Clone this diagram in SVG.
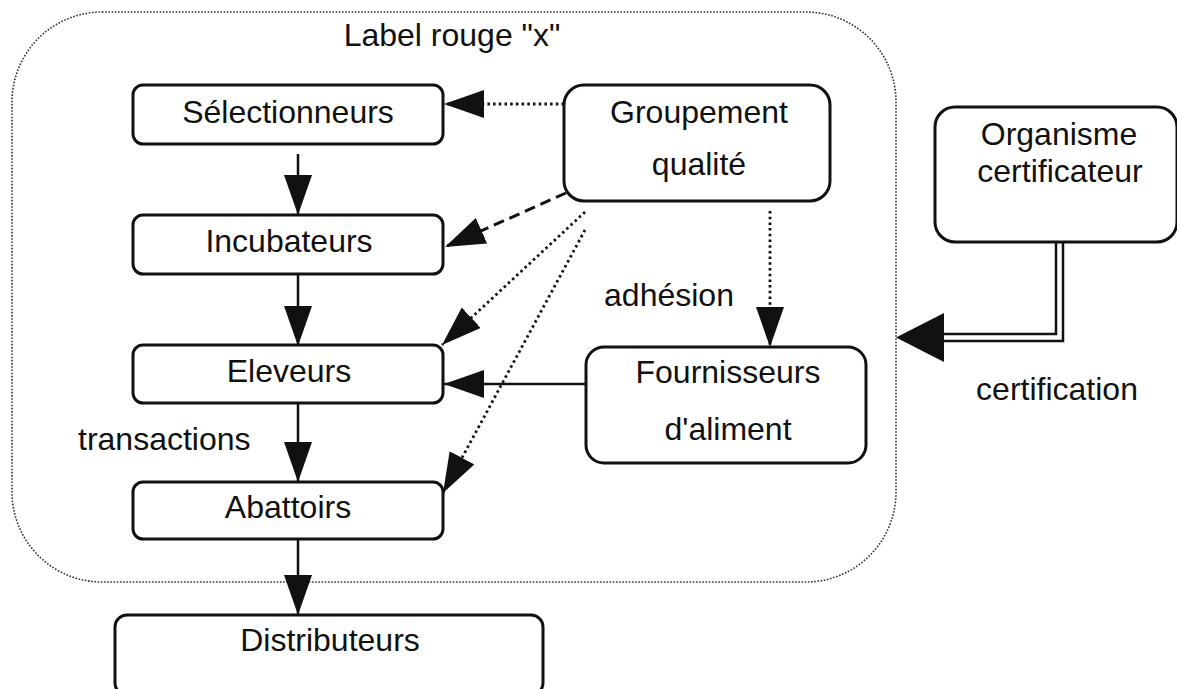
<svg xmlns="http://www.w3.org/2000/svg" width="1177" height="689" viewBox="0 0 1177 689">
<defs>
<style>
text{font-family:"Liberation Sans",Arial,sans-serif;font-size:32px;fill:#111;text-anchor:middle}
.box{fill:#fff;stroke:#111;stroke-width:3}
.solid{stroke:#111;stroke-width:2.5;fill:none}
.dot{stroke:#111;stroke-width:2.8;fill:none;stroke-dasharray:2.5 3.2}
.dash{stroke:#111;stroke-width:3;fill:none;stroke-dasharray:11 6}
.frame{fill:none;stroke:#333;stroke-width:1.6;stroke-dasharray:1.6 1.6}
</style>
<marker id="ah" markerUnits="userSpaceOnUse" markerWidth="42" markerHeight="30" refX="40" refY="14" orient="auto">
<path d="M0,0 L40,14 L0,28 Z" fill="#111"/>
</marker>
</defs>
<rect id="frame" class="frame" x="12" y="12" width="884" height="570" rx="90" ry="90"/>
<text x="452" y="46">Label rouge "x"</text>
<g id="connectors">
<line class="solid" x1="298" y1="154" x2="298" y2="215" marker-end="url(#ah)"/>
<line class="solid" x1="298" y1="274" x2="298" y2="346" marker-end="url(#ah)"/>
<line class="solid" x1="298" y1="404" x2="298" y2="482" marker-end="url(#ah)"/>
<line class="solid" x1="298" y1="539" x2="298" y2="615" marker-end="url(#ah)"/>
<line class="solid" x1="585" y1="384" x2="444" y2="384" marker-end="url(#ah)"/>
<line class="dot" x1="564" y1="104" x2="444" y2="104" marker-end="url(#ah)"/>
<line class="dash" x1="566" y1="193" x2="445" y2="247" marker-end="url(#ah)"/>
<line class="dot" x1="585" y1="212" x2="442" y2="345" marker-end="url(#ah)"/>
<line class="dot" x1="585" y1="230" x2="443" y2="493" marker-end="url(#ah)"/>
<line class="dot" x1="770" y1="211" x2="770" y2="347" marker-end="url(#ah)"/>
<path d="M1059.5,242 V337.5 H940" fill="none" stroke="#111" stroke-width="9.5"/>
<path d="M1059.5,242 V337.5 H940" fill="none" stroke="#fff" stroke-width="4.5"/>
<polygon points="896,337.5 944,313 944,362" fill="#111"/>
<text x="78" y="450" style="text-anchor:start">transactions</text>
<text x="669" y="306">adhésion</text>
<text x="1057" y="400">certification</text>
</g>
<g id="selectionneurs">
<rect class="box" x="133" y="85" width="310" height="59" rx="10"/>
<text x="288" y="123">Sélectionneurs</text>
</g>
<g id="incubateurs">
<rect class="box" x="133" y="215" width="310" height="59" rx="10"/>
<text x="289" y="252">Incubateurs</text>
</g>
<g id="eleveurs">
<rect class="box" x="133" y="345" width="310" height="58" rx="10"/>
<text x="289" y="382">Eleveurs</text>
</g>
<g id="abattoirs">
<rect class="box" x="133" y="482" width="310" height="57" rx="10"/>
<text x="288" y="518">Abattoirs</text>
</g>
<g id="distributeurs">
<rect class="box" x="115" y="615" width="428" height="80" rx="12"/>
<text x="330" y="651">Distributeurs</text>
</g>
<g id="groupement">
<rect class="box" x="564" y="85" width="266" height="116" rx="20"/>
<text x="699" y="123">Groupement</text>
<text x="699" y="175">qualité</text>
</g>
<g id="organisme">
<rect class="box" x="935" y="107" width="242" height="135" rx="20"/>
<text x="1059" y="145">Organisme</text>
<text x="1060" y="182">certificateur</text>
</g>
<g id="fournisseurs">
<rect class="box" x="586" y="347" width="280" height="116" rx="18"/>
<text x="728" y="383">Fournisseurs</text>
<text x="728" y="440">d'aliment</text>
</g>
</svg>
